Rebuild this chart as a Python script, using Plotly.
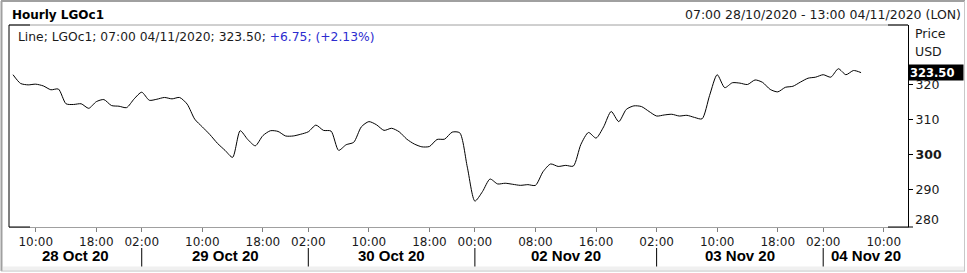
import plotly.graph_objects as go

# ---------------- data ----------------
# trading sessions (date, first hour, last hour) -> one bar per hour
sessions = [("28/10", 7, 22), ("29/10", 1, 22), ("30/10", 1, 22),
            ("01/11", 23, 23), ("02/11", 0, 22), ("03/11", 1, 22), ("04/11", 1, 13)]

prices = [
    322.9, 320.4, 320.0, 320.2, 319.7, 318.6, 318.8, 314.6, 314.4, 314.6,
    313.3, 315.2, 315.8, 314.1, 313.9, 313.5, 316.0, 317.9, 315.6, 315.9,
    316.4, 316.0, 316.4, 314.5, 310.2, 308.0, 305.8, 303.3, 301.3, 299.3,
    306.9, 304.4, 302.6, 305.5, 306.9, 306.7, 305.4, 305.4, 305.9, 306.6,
    308.5, 307.0, 306.8, 301.3, 302.9, 303.6, 308.0, 309.5, 308.6, 307.0,
    307.6, 306.6, 304.5, 303.1, 302.3, 302.4, 304.4, 304.5, 306.5, 306.3,
    296.5, 286.8, 289.5, 293.1, 291.7, 291.9, 291.6, 291.3, 291.5, 291.3,
    295.2, 297.4, 296.7, 297.0, 296.8, 303.0, 306.4, 304.8, 308.0, 312.4,
    309.5, 313.0, 314.0, 313.8, 312.4, 311.1, 311.4, 311.6, 311.1, 311.3,
    310.7, 310.3, 317.0, 322.9, 319.2, 320.6, 320.5, 320.1, 321.4, 320.7,
    318.7, 318.0, 319.3, 319.6, 320.8, 321.9, 322.2, 322.9, 322.2, 324.6,
    322.9, 324.1, 323.5,
]

tick_times = ["28/10 10:00", "28/10 18:00", "29/10 02:00", "29/10 10:00", "29/10 18:00",
              "30/10 02:00", "30/10 10:00", "30/10 18:00", "02/11 00:00", "02/11 08:00",
              "02/11 16:00", "03/11 02:00", "03/11 10:00", "03/11 18:00", "04/11 02:00",
              "04/11 10:00"]
day_starts = ["29/10 02:00", "30/10 02:00", "02/11 00:00", "03/11 02:00", "04/11 02:00"]
day_labels = ["28 Oct 20", "29 Oct 20", "30 Oct 20", "02 Nov 20", "03 Nov 20", "04 Nov 20"]

y_ticks = [290, 300, 310, 320]
y_ticktext = ["290", "<b>300</b>", "310", "320"]

title_text = "Hourly LGOc1"
range_text = "07:00 28/10/2020 - 13:00 04/11/2020 (LON)"
last_time = "07:00 04/11/2020"
change = 6.75
change_pct = 2.13

# ---------------- build ----------------
bar_times = []
for d, h0, h1 in sessions:
    for h in range(h0, h1 + 1):
        bar_times.append(f"{d} {h:02d}:00")
pos = {t: i for i, t in enumerate(bar_times)}
xs = list(range(len(prices)))
x_end = pos["04/11 13:00"]

L, R, T, B = 9, 908, 25, 227
W, H = 967, 273
def px(x): return (x - L) / (R - L)
def py(y): return (B - y) / (B - T)

fig = go.Figure()
fig.add_trace(go.Scatter(x=xs, y=prices, mode="lines",
                         line=dict(color="black", width=1, shape="spline", smoothing=0.7),
                         hoverinfo="skip", showlegend=False))

FONT = "DejaVu Sans"
BOLDF = "Liberation Sans, Arial"

fig.update_layout(
    width=W, height=H,
    margin=dict(l=L, r=W - R, t=T, b=H - B),
    paper_bgcolor="white", plot_bgcolor="white",
    showlegend=False,
    xaxis=dict(range=[-0.53, x_end + 0.2], tickmode="array",
               tickvals=[pos[t] for t in tick_times],
               ticktext=[t.split(" ")[1] for t in tick_times],
               ticks="outside", ticklen=4, tickcolor="#808080", tickwidth=1,
               tickfont=dict(family=FONT, size=12, color="#1a1a1a"),
               showgrid=False, zeroline=False,
               showline=True, linecolor="#a0a0a0", linewidth=1),
    yaxis=dict(range=[279.4, 337.1], side="right", tickmode="array",
               tickvals=y_ticks, ticktext=y_ticktext,
               ticks="outside", ticklen=4, tickcolor="black",
               tickfont=dict(family=FONT, size=12.5, color="#1a1a1a"),
               showgrid=False, zeroline=False,
               showline=True, linecolor="black", linewidth=1),
)

shapes = []
def pline(x0, y0, x1, y1, color, width=1):
    shapes.append(dict(type="line", xref="paper", yref="paper",
                       x0=px(x0), y0=py(y0), x1=px(x1), y1=py(y1),
                       line=dict(color=color, width=width)))

# outer frame
pline(1, 1, 965, 1, "#a0a0a0", 2)
pline(1.5, 1, 1.5, 271, "#a0a0a0", 2)
pline(964.5, 1, 964.5, 271, "#c8c8c8", 1)
shapes.append(dict(type="rect", xref="paper", yref="paper",
                   x0=px(3), x1=px(964), y0=py(266.5), y1=py(270),
                   fillcolor="#f0f0f0", line=dict(width=0)))
pline(1, 271, 965, 271, "#c0c0c0", 1)
# plot frame
pline(L, T, R, T, "#a0a0a0", 1)
pline(L, T, L, B, "black", 1)
pline(L, T, 30, T, "black", 1)
pline(L, B, 30, B, "black", 1)
pline(888, T, R, T, "black", 1)
pline(888, B, 913, B, "black", 1)
# day separators
for t in day_starts:
    shapes.append(dict(type="line", xref="x", yref="paper",
                       x0=pos[t], x1=pos[t], y0=py(248), y1=py(266.5),
                       line=dict(color="black", width=1)))
fig.update_layout(shapes=shapes)

ann = []
ann.append(dict(text=f"<b>{title_text}</b>", xref="paper", yref="paper",
                x=px(10), y=py(15.5), xanchor="left", yanchor="middle", showarrow=False,
                font=dict(family=FONT, size=12, color="black")))
ann.append(dict(text=range_text, xref="paper", yref="paper",
                x=px(963), y=py(14.5), xanchor="right", yanchor="middle", showarrow=False,
                font=dict(family=FONT, size=12.5, color="#1a1a1a")))
last = prices[-1]
legend = (f"Line; LGOc1; {last_time}; {last:.2f}; "
          f"<span style='color:#2c2ccf'>{change:+.2f}; ({change_pct:+.2f}%)</span>")
ann.append(dict(text=legend, xref="paper", yref="paper",
                x=px(16), y=py(36.5), xanchor="left", yanchor="middle", showarrow=False,
                font=dict(family=FONT, size=12.3, color="#1a1a1a")))
ann.append(dict(text="Price", xref="paper", yref="paper", x=px(913), y=py(33.5),
                xanchor="left", yanchor="middle", showarrow=False,
                font=dict(family=FONT, size=12.5, color="#1a1a1a")))
ann.append(dict(text="USD", xref="paper", yref="paper", x=px(913), y=py(51.5),
                xanchor="left", yanchor="middle", showarrow=False,
                font=dict(family=FONT, size=12.5, color="#1a1a1a")))
ann.append(dict(text="280", xref="paper", yref="paper", x=px(913), y=py(219),
                xanchor="left", yanchor="middle", showarrow=False,
                font=dict(family=FONT, size=12.5, color="#1a1a1a")))
ann.append(dict(text=f"<b>{last:.2f}</b>", xref="paper", yref="y", x=1, y=last,
                xanchor="left", yanchor="middle", showarrow=False,
                bgcolor="black", borderpad=1, width=52, height=13, align="left",
                font=dict(family=FONT, size=11.5, color="white")))
# date labels, centred between separators
bounds = [-0.53] + [pos[t] for t in day_starts] + [x_end + 0.2]
for i, lab in enumerate(day_labels):
    ann.append(dict(text=f"<b>{lab}</b>", xref="x", yref="paper",
                    x=(bounds[i] + bounds[i + 1]) / 2, y=py(256),
                    xanchor="center", yanchor="middle", showarrow=False,
                    font=dict(family=BOLDF, size=15, color="black")))
fig.update_layout(annotations=ann)

fig.write_html("out.html")
